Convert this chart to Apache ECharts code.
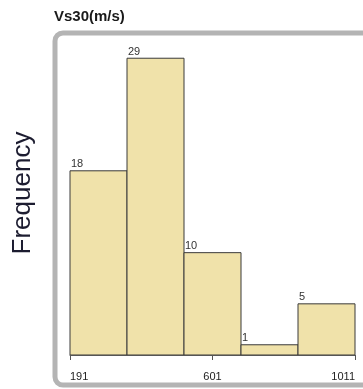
<!DOCTYPE html>
<html>
<head>
<meta charset="utf-8">
<script src="https://cdn.jsdelivr.net/npm/echarts@6/dist/echarts.min.js"></script>
<style>
  html, body { margin: 0; padding: 0; background: #fff; }
  #chart { width: 363px; height: 389px; }
</style>
</head>
<body>
<div id="chart"></div>
<script>
// Histogram of Vs30 values: five equal-width bins between 191 and 1011 m/s
const binStarts = [191, 355, 519, 683, 847];
const binEnds   = [355, 519, 683, 847, 1011];
const counts    = [18, 29, 10, 1, 5];
const tickValues = [191, 601, 1011];

const font = 'Liberation Sans, Arial, sans-serif';
const data = counts.map((c, i) => [binStarts[i], binEnds[i], c]);

const chart = echarts.init(document.getElementById('chart'), null, { renderer: 'canvas' });

chart.setOption({
  animation: false,
  title: {
    text: 'Vs30(m/s)',
    left: 54,
    top: 9,
    padding: 0,
    textStyle: { fontFamily: font, fontSize: 15, fontWeight: 'bold', color: '#1a1a1a' }
  },
  graphic: [
    {
      // rounded plot panel, open to the right edge
      type: 'rect',
      z: 0,
      silent: true,
      shape: { x: 55, y: 33, width: 330, height: 352, r: 8 },
      style: { fill: '#fff', stroke: '#b4b4b4', lineWidth: 5 }
    },
    {
      type: 'text',
      x: 23,
      y: 193,
      rotation: Math.PI / 2,
      style: {
        text: 'Frequency',
        font: '26px ' + font,
        fill: '#1c1c30',
        align: 'center',
        verticalAlign: 'middle'
      }
    }
  ],
  grid: { left: 70, right: 8, top: 48, bottom: 34 },
  xAxis: {
    type: 'value',
    min: 191,
    max: 1011,
    offset: 4,
    z: 5,
    splitLine: { show: false },
    axisLine: { show: true, lineStyle: { color: '#555', width: 1 } },
    axisTick: { show: true, length: 5, customValues: tickValues, lineStyle: { color: '#555' } },
    axisLabel: {
      customValues: tickValues,
      formatter: function (v) { return String(v); },
      margin: 12,
      fontFamily: font,
      fontSize: 11,
      color: '#222',
      alignMinLabel: 'left',
      alignMaxLabel: 'right'
    }
  },
  yAxis: {
    type: 'value',
    min: 0,
    max: 30,
    show: false,
    splitLine: { show: false }
  },
  series: [{
    type: 'custom',
    z: 5,
    data: data,
    encode: { x: [0, 1], y: 2 },
    renderItem: function (params, api) {
      const start = api.value(0), end = api.value(1), c = api.value(2);
      const p0 = api.coord([start, c]);
      const p1 = api.coord([end, 0]);
      return {
        type: 'group',
        children: [
          {
            type: 'rect',
            shape: { x: p0[0], y: p0[1], width: p1[0] - p0[0], height: p1[1] - p0[1] },
            style: { fill: '#f0e2aa', stroke: '#3a3a3a', lineWidth: 1 }
          },
          {
            type: 'text',
            x: p0[0] + 1,
            y: p0[1] - 1,
            style: {
              text: String(c),
              font: '11px ' + font,
              fill: '#333',
              align: 'left',
              verticalAlign: 'bottom'
            }
          }
        ]
      };
    }
  }]
});
</script>
</body>
</html>
